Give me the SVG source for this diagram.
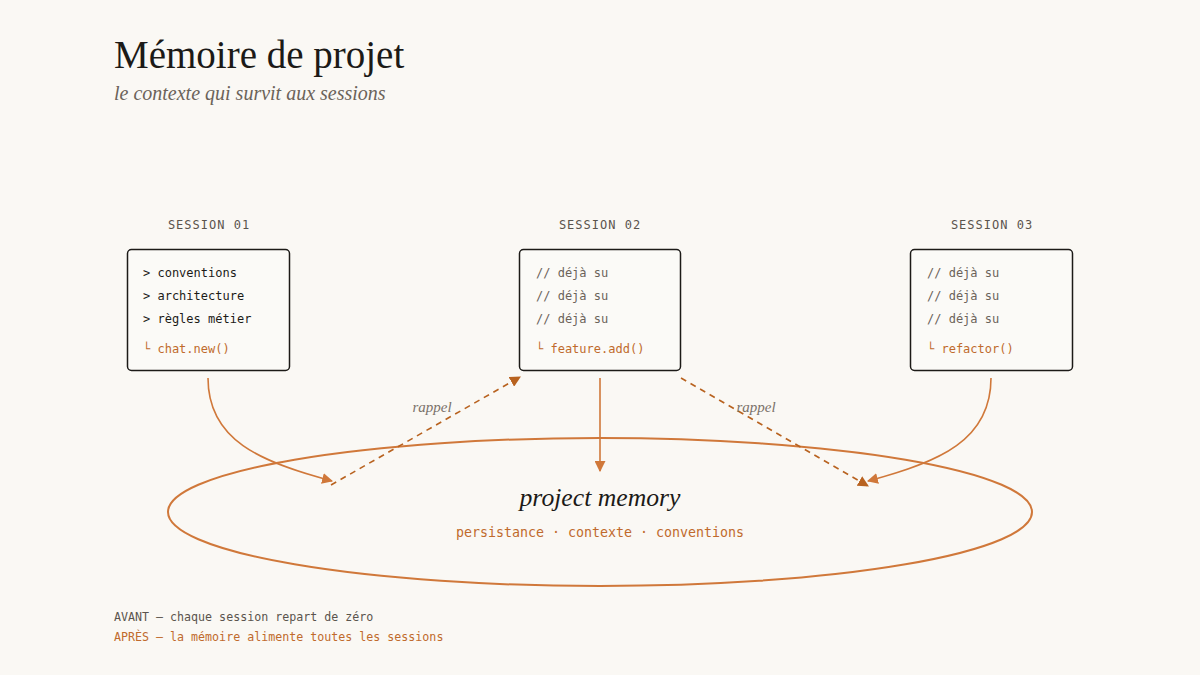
<svg xmlns="http://www.w3.org/2000/svg" width="1200" height="675" viewBox="0 0 1200 675">
<defs>
<marker id="ah" viewBox="0 0 10 10" refX="9" refY="5" markerWidth="11" markerHeight="11" markerUnits="userSpaceOnUse" orient="auto">
<path d="M0,0 L10,5 L0,10 z" fill="#d0783a"/>
</marker>
<marker id="ahd" viewBox="0 0 10 10" refX="9" refY="5" markerWidth="11" markerHeight="11" markerUnits="userSpaceOnUse" orient="auto">
<path d="M0,0 L10,5 L0,10 z" fill="#b8621f"/>
</marker>
</defs>
<style>
.title{font-family:"Liberation Serif","DejaVu Serif",serif;font-size:39px;fill:#1c1a17}
.sub{font-family:"Liberation Serif","DejaVu Serif",serif;font-style:italic;font-size:20px;fill:#6b635a}
.lab{font-family:"DejaVu Sans Mono","Liberation Mono",monospace;font-size:12px;letter-spacing:1px;fill:#5a544d}
.box{fill:#fbfaf7;stroke:#1c1a17;stroke-width:1.5}
.code{font-family:"DejaVu Sans Mono","Liberation Mono",monospace;font-size:12px;fill:#1c1a17;font-weight:500}
.dim{font-family:"DejaVu Sans Mono","Liberation Mono",monospace;font-size:12px;fill:#6b635a}
.acc{font-family:"DejaVu Sans Mono","Liberation Mono",monospace;font-size:12px;fill:#c06a2c}
.solid{fill:none;stroke:#d0783a;stroke-width:1.6}
.dash{fill:none;stroke:#b8621f;stroke-width:1.6;stroke-dasharray:6 5}
.rap{font-family:"Liberation Serif","DejaVu Serif",serif;font-style:italic;font-size:15px;fill:#7a726a}
.mem{font-family:"Liberation Serif","DejaVu Serif",serif;font-style:italic;font-size:25.7px;fill:#1c1a17}
.tags{font-family:"DejaVu Sans Mono","Liberation Mono",monospace;font-size:13.3px;fill:#c06a2c}
.foot{font-family:"DejaVu Sans Mono","Liberation Mono",monospace;font-size:11.65px;fill:#5a544d}
.foota{font-family:"DejaVu Sans Mono","Liberation Mono",monospace;font-size:11.65px;fill:#c06a2c}
</style>
<rect width="1200" height="675" fill="#faf8f4"/>
<g id="header">
<text class="title" x="114" y="68">Mémoire de projet</text>
<text class="sub" x="114" y="100">le contexte qui survit aux sessions</text>
</g>
<g id="memory">
<ellipse cx="600" cy="512" rx="432" ry="74" fill="none" stroke="#d0783a" stroke-width="2"/>
<text class="mem" x="600" y="506" text-anchor="middle">project memory</text>
<text class="tags" x="600" y="537" text-anchor="middle">persistance · contexte · conventions</text>
</g>
<g id="session1">
<text class="lab" x="209" y="229" text-anchor="middle">SESSION 01</text>
<rect class="box" x="127.5" y="249.5" width="162" height="121" rx="4"/>
<text class="code" x="143" y="277">&gt; conventions</text>
<text class="code" x="143" y="300">&gt; architecture</text>
<text class="code" x="143" y="323">&gt; règles métier</text>
<text class="acc" x="143" y="353">└ chat.new()</text>
</g>
<g id="session2">
<text class="lab" x="600" y="229" text-anchor="middle">SESSION 02</text>
<rect class="box" x="519.5" y="249.5" width="161" height="121" rx="4"/>
<text class="dim" x="536" y="277">// déjà su</text>
<text class="dim" x="536" y="300">// déjà su</text>
<text class="dim" x="536" y="323">// déjà su</text>
<text class="acc" x="536" y="353">└ feature.add()</text>
</g>
<g id="session3">
<text class="lab" x="992" y="229" text-anchor="middle">SESSION 03</text>
<rect class="box" x="910.5" y="249.5" width="162" height="121" rx="4"/>
<text class="dim" x="927" y="277">// déjà su</text>
<text class="dim" x="927" y="300">// déjà su</text>
<text class="dim" x="927" y="323">// déjà su</text>
<text class="acc" x="927" y="353">└ refactor()</text>
</g>
<g id="connectors">
<path class="solid" d="M208,378 C208,440 260,462 332,481" marker-end="url(#ah)"/>
<path class="dash" d="M331,485 L520,377" marker-end="url(#ahd)"/>
<path class="solid" d="M600,378 L600,471" marker-end="url(#ah)"/>
<path class="dash" d="M681,378 L868,486" marker-end="url(#ahd)"/>
<path class="solid" d="M991,378 C991,440 940,462 868,481" marker-end="url(#ah)"/>
<text class="rap" x="432" y="412" text-anchor="middle">rappel</text>
<text class="rap" x="756" y="412" text-anchor="middle">rappel</text>
</g>
<g id="footer">
<text class="foot" x="114" y="621">AVANT — chaque session repart de zéro</text>
<text class="foota" x="114" y="641">APRÈS — la mémoire alimente toutes les sessions</text>
</g>
</svg>
